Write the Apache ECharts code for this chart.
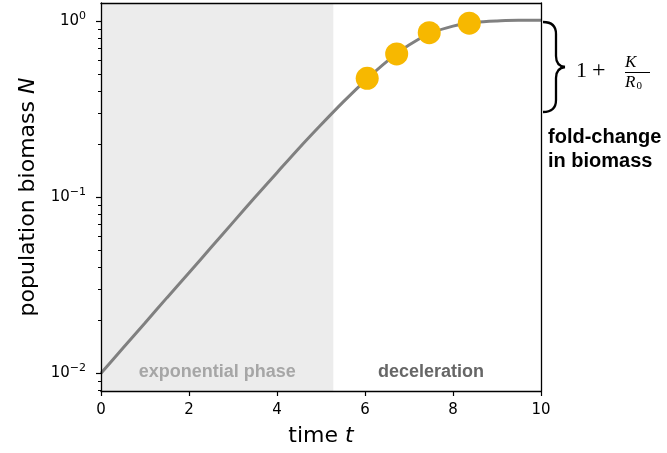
<!DOCTYPE html>
<html>
<head>
<meta charset="utf-8">
<script src="https://cdn.jsdelivr.net/npm/echarts@6/dist/echarts.min.js"></script>
<style>
  html, body { margin: 0; padding: 0; background: #fff; }
  #chart { width: 667px; height: 453px; }
</style>
</head>
<body>
<div id="chart"></div>
<script>
// growth curve
var timeT = [0, 0.5, 1, 1.5, 2, 2.5, 3, 3.5, 4, 4.5, 5, 5.5, 6, 6.5, 7, 7.5, 8, 8.5, 9, 9.5, 10];
var biomassN = [0.0100, 0.0139, 0.0193, 0.0269, 0.0372, 0.0518, 0.0720, 0.100, 0.138, 0.190,
                0.258, 0.347, 0.459, 0.592, 0.733, 0.855, 0.938, 0.986, 1.005, 1.012, 1.014];

// yellow sample points
var sampleT = [6.05, 6.72, 7.46, 8.37];
var sampleN = [0.474, 0.652, 0.861, 0.975];

// shaded phase, labels
var expPhaseEnd = 5.28;
var phaseLabels = ['exponential phase', 'deceleration'];

var yMajor = [0.01, 0.1, 1];
var yMinor = [0.008, 0.009, 0.02, 0.03, 0.04, 0.05, 0.06, 0.07, 0.08, 0.09,
              0.2, 0.3, 0.4, 0.5, 0.6, 0.7, 0.8, 0.9];

var sansFont = 'DejaVu Sans';
var yMin = 0.00793, yMax = 1.27;

var chart = echarts.init(document.getElementById('chart'));

function pairs(xs, ys) {
    var out = [];
    for (var i = 0; i < xs.length; i++) out.push([xs[i], ys[i]]);
    return out;
}

function expLabel(v) {
    var e = Math.round(Math.log10(v));
    var s = e < 0 ? '\u2212' + (-e) : String(e);
    return '{b|10}{e|' + s + '}';
}

// curly brace, drawn piece by piece
var braceStyle = { stroke: '#000', lineWidth: 2.3, fill: null };
function curve(x1, y1, cx, cy, x2, y2) {
    return { type: 'bezierCurve', shape: { x1: x1, y1: y1, cpx1: cx, cpy1: cy, x2: x2, y2: y2 }, style: braceStyle };
}
function seg(x1, y1, x2, y2) {
    return { type: 'line', shape: { x1: x1, y1: y1, x2: x2, y2: y2 }, style: braceStyle };
}

var option = {
    animation: false,
    grid: { left: 101, right: 126, top: 3, bottom: 62 },
    xAxis: [{
        type: 'value', min: 0, max: 10, interval: 2, z: 5,
        name: 'time {i|t}', nameLocation: 'middle', nameGap: 34,
        nameTextStyle: { fontFamily: sansFont, fontSize: 22, color: '#000',
            rich: { i: { fontFamily: sansFont, fontSize: 22, fontStyle: 'italic', color: '#000' } } },
        axisLine: { lineStyle: { color: '#000', width: 1.3 } },
        axisTick: { inside: false, length: 5, lineStyle: { color: '#000', width: 1.2 } },
        axisLabel: { fontFamily: sansFont, fontSize: 15, color: '#000', margin: 12 },
        splitLine: { show: false }
    }, {
        type: 'value', min: 0, max: 10, position: 'top', z: 5,
        axisLine: { show: true, lineStyle: { color: '#000', width: 1.3 } },
        axisTick: { show: false }, axisLabel: { show: false }, splitLine: { show: false }
    }],
    yAxis: [{
        type: 'log', min: yMin, max: yMax, z: 5,
        name: 'population biomass {i|N}', nameLocation: 'middle', nameGap: 62,
        nameTextStyle: { fontFamily: sansFont, fontSize: 22, color: '#000',
            rich: { i: { fontFamily: sansFont, fontSize: 22, fontStyle: 'italic', color: '#000' } } },
        axisLine: { show: true, lineStyle: { color: '#000', width: 1.3 } },
        axisTick: { length: 5, customValues: yMajor, lineStyle: { color: '#000', width: 1.2 } },
        axisLabel: {
            customValues: yMajor, margin: 15, formatter: expLabel,
            rich: {
                b: { fontFamily: sansFont, fontSize: 15, color: '#000' },
                e: { fontFamily: sansFont, fontSize: 11, color: '#000', padding: [0, 0, 10, 0] }
            }
        },
        splitLine: { show: false }
    }, {
        type: 'log', min: yMin, max: yMax, position: 'left', z: 5,
        axisLine: { show: false },
        axisTick: { length: 3, customValues: yMinor, lineStyle: { color: '#000', width: 1 } },
        axisLabel: { show: false }, splitLine: { show: false }
    }, {
        type: 'log', min: yMin, max: yMax, position: 'right', z: 5,
        axisLine: { show: true, lineStyle: { color: '#000', width: 1.3 } },
        axisTick: { show: false }, axisLabel: { show: false }, splitLine: { show: false }
    }],
    series: [{
        type: 'line',
        data: pairs(timeT, biomassN),
        showSymbol: false,
        smooth: 0.3,
        lineStyle: { color: '#808080', width: 3 },
        z: 3,
        markArea: {
            silent: true,
            label: {
                position: 'insideBottom', distance: 10,
                fontFamily: 'Liberation Sans', fontWeight: 'bold', fontSize: 18
            },
            data: [
                [{ xAxis: 0, name: phaseLabels[0], itemStyle: { color: '#ececec' },
                   label: { color: '#a6a6a6' } }, { xAxis: expPhaseEnd }],
                [{ xAxis: 5, name: phaseLabels[1], itemStyle: { color: 'rgba(0,0,0,0)' },
                   label: { color: '#666666' } }, { xAxis: 10 }]
            ]
        }
    }, {
        type: 'scatter',
        data: pairs(sampleT, sampleN),
        symbolSize: 23,
        itemStyle: { color: '#f7b800', opacity: 1 },
        z: 4
    }],
    graphic: [
        curve(543, 22, 556, 22, 556, 34),
        seg(556, 34, 556, 56),
        curve(556, 56, 556, 66, 565, 67),
        curve(565, 67, 556, 68, 556, 78),
        seg(556, 78, 556, 100),
        curve(556, 100, 556, 112, 543, 112),
    {
        type: 'text', left: 576, top: 60,
        style: { text: '1', font: '22px "Liberation Serif"', fill: '#000' }
    }, {
        type: 'text', left: 592, top: 59,
        style: { text: '+', font: '24px "Liberation Serif"', fill: '#000' }
    }, {
        type: 'text', left: 625, top: 54,
        style: { text: 'K', font: 'italic 17px "Liberation Serif"', fill: '#000' }
    }, {
        type: 'rect', shape: { x: 625, y: 72, width: 25, height: 1 },
        style: { fill: '#000' }
    }, {
        type: 'text', left: 625, top: 74,
        style: {
            text: '{r|R}{s|0}',
            rich: {
                r: { font: 'italic 17px "Liberation Serif"', fill: '#000' },
                s: { font: '11px "Liberation Serif"', fill: '#000', padding: [7, 0, 0, 1] }
            }
        }
    }, {
        type: 'text', left: 548, top: 125,
        style: {
            text: 'fold-change\nin biomass',
            font: 'bold 20px "Liberation Sans"', lineHeight: 24, fill: '#000'
        }
    }]
};

chart.setOption(option);
</script>
</body>
</html>
